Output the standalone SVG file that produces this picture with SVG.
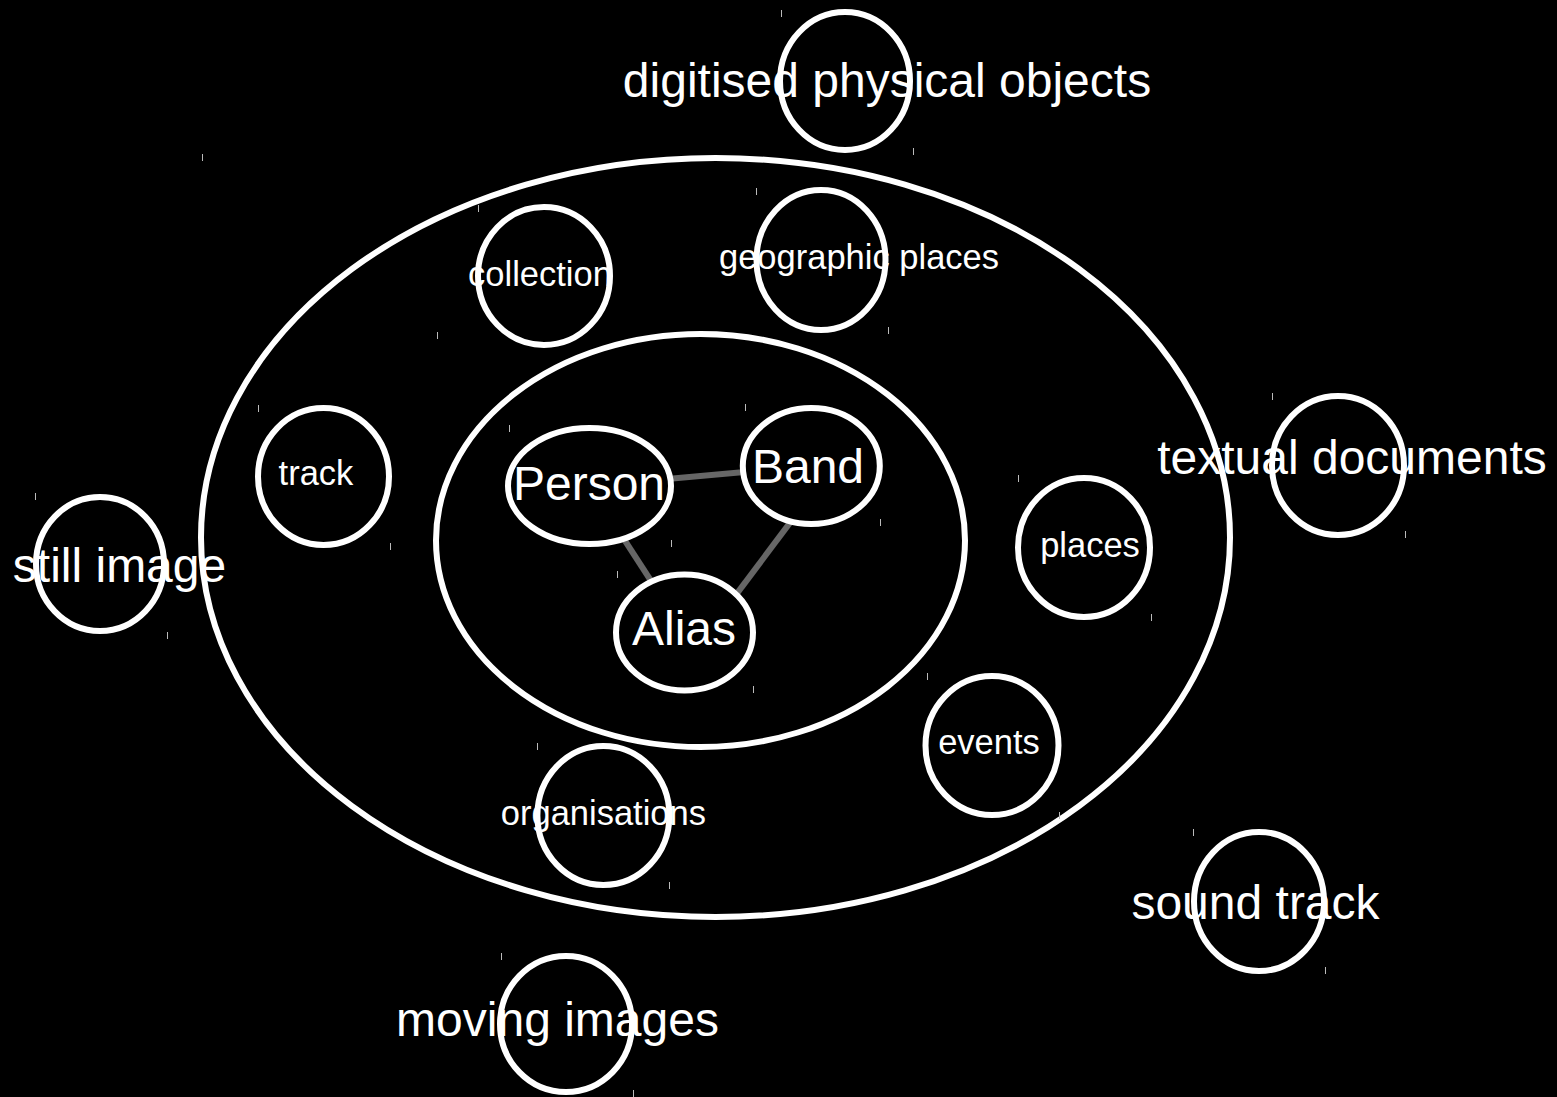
<svg xmlns="http://www.w3.org/2000/svg" width="1557" height="1097" viewBox="0 0 1557 1097">
<style>
.ring{fill:#000;stroke:#fff;stroke-width:6}
.node{fill:#000;stroke:#fff;stroke-width:6}
.lbl{fill:#fff;font-family:"Liberation Sans",Arial,sans-serif;text-anchor:middle}
.big{font-size:48px}
.small{font-size:34.5px}
.edge{stroke:#666;stroke-width:6;fill:none}
.tick{stroke:#bbb;stroke-width:1}
</style>
<rect width="1557" height="1097" fill="#000"/>
<g id="outer-ring"><ellipse class="ring" cx="715.5" cy="537.5" rx="514.5" ry="379.5"/></g>
<g id="inner-ring"><ellipse class="ring" cx="700.5" cy="540.5" rx="264.5" ry="206.5"/></g>
<g id="connectors">
<line class="edge" x1="589.5" y1="486" x2="811" y2="466"/>
<line class="edge" x1="589.5" y1="486" x2="684.5" y2="632.5"/>
<line class="edge" x1="800" y1="509.4" x2="731" y2="601.4"/>
</g>
<g id="digitised"><ellipse class="node" cx="845" cy="81" rx="65" ry="69"/><text class="lbl big" x="887" y="97">digitised physical objects</text></g>
<g id="textual"><ellipse class="node" cx="1338" cy="465.5" rx="66" ry="69.5"/><text class="lbl big" x="1352" y="474">textual documents</text></g>
<g id="still"><ellipse class="node" cx="100" cy="564" rx="64" ry="67"/><text class="lbl big" x="119.5" y="582">still image</text></g>
<g id="sound"><ellipse class="node" cx="1259" cy="901.5" rx="65" ry="69.5"/><text class="lbl big" x="1255.5" y="919">sound track</text></g>
<g id="moving"><ellipse class="node" cx="566" cy="1024" rx="66" ry="68"/><text class="lbl big" x="557.5" y="1036">moving images</text></g>
<g id="collection"><ellipse class="node" cx="544" cy="276" rx="66" ry="69"/><text class="lbl small" x="540" y="286">collection</text></g>
<g id="geographic"><ellipse class="node" cx="821" cy="260" rx="64.5" ry="70"/><text class="lbl small" x="859" y="269">geographic places</text></g>
<g id="track"><ellipse class="node" cx="323.5" cy="476.5" rx="65.5" ry="68.5"/><text class="lbl small" x="316" y="485">track</text></g>
<g id="places"><ellipse class="node" cx="1084" cy="547.5" rx="66" ry="69.5"/><text class="lbl small" x="1090" y="557">places</text></g>
<g id="events"><ellipse class="node" cx="992" cy="745.5" rx="66.5" ry="69.5"/><text class="lbl small" x="989" y="754">events</text></g>
<g id="organisations"><ellipse class="node" cx="603.4" cy="815.5" rx="66" ry="69.5"/><text class="lbl small" x="603.4" y="825">organisations</text></g>
<g id="person"><ellipse class="node" cx="589.5" cy="486" rx="81.5" ry="58"/><text class="lbl big" x="589" y="500">Person</text></g>
<g id="band"><ellipse class="node" cx="811.3" cy="466" rx="68.5" ry="58"/><text class="lbl big" x="808" y="483">Band</text></g>
<g id="alias"><ellipse class="node" cx="684.5" cy="632.5" rx="68.5" ry="58"/><text class="lbl big" x="684" y="645">Alias</text></g>
<g id="ticks">
<line class="tick" x1="781.5" y1="10" x2="781.5" y2="17"/>
<line class="tick" x1="913.5" y1="148" x2="913.5" y2="155"/>
<line class="tick" x1="202.5" y1="154" x2="202.5" y2="161"/>
<line class="tick" x1="478.5" y1="205" x2="478.5" y2="212"/>
<line class="tick" x1="756.5" y1="188" x2="756.5" y2="195"/>
<line class="tick" x1="888.5" y1="327" x2="888.5" y2="334"/>
<line class="tick" x1="437.5" y1="332" x2="437.5" y2="339"/>
<line class="tick" x1="258.5" y1="405" x2="258.5" y2="412"/>
<line class="tick" x1="390.5" y1="543" x2="390.5" y2="550"/>
<line class="tick" x1="509.5" y1="425" x2="509.5" y2="432"/>
<line class="tick" x1="671.5" y1="540" x2="671.5" y2="547"/>
<line class="tick" x1="745.5" y1="404" x2="745.5" y2="411"/>
<line class="tick" x1="880.5" y1="519" x2="880.5" y2="526"/>
<line class="tick" x1="617.5" y1="571" x2="617.5" y2="578"/>
<line class="tick" x1="753.5" y1="686" x2="753.5" y2="693"/>
<line class="tick" x1="1018.5" y1="475" x2="1018.5" y2="482"/>
<line class="tick" x1="1151.5" y1="614" x2="1151.5" y2="621"/>
<line class="tick" x1="927.5" y1="673" x2="927.5" y2="680"/>
<line class="tick" x1="1059.5" y1="812" x2="1059.5" y2="819"/>
<line class="tick" x1="537.5" y1="743" x2="537.5" y2="750"/>
<line class="tick" x1="669.5" y1="882" x2="669.5" y2="889"/>
<line class="tick" x1="1272.5" y1="393" x2="1272.5" y2="400"/>
<line class="tick" x1="1405.5" y1="531" x2="1405.5" y2="538"/>
<line class="tick" x1="35.5" y1="493" x2="35.5" y2="500"/>
<line class="tick" x1="167.5" y1="632" x2="167.5" y2="639"/>
<line class="tick" x1="1193.5" y1="829" x2="1193.5" y2="836"/>
<line class="tick" x1="1325.5" y1="967" x2="1325.5" y2="974"/>
<line class="tick" x1="501.5" y1="953" x2="501.5" y2="960"/>
<line class="tick" x1="633.5" y1="1090" x2="633.5" y2="1097"/>
</g>
</svg>
